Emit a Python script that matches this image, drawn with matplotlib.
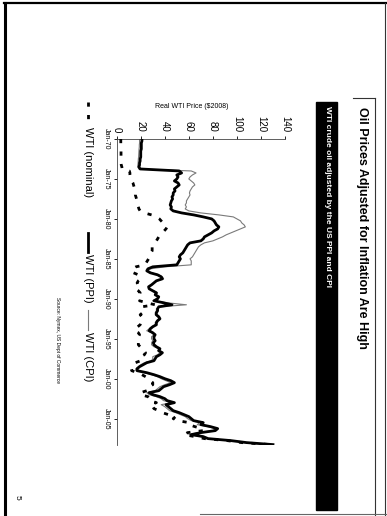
import numpy as np
import matplotlib.pyplot as plt
from matplotlib.lines import Line2D
from matplotlib.patches import Rectangle

plt.rcParams['font.family'] = ['Liberation Sans', 'DejaVu Sans']

# Page is scanned sideways: time runs down the page, price runs to the right.
# quarterly points, Jan-70 .. Apr-08
years = np.arange(1970, 2008.26, 0.25)

nominal = [
    3.4, 3.4, 3.4, 3.4,      # 1970
    3.5, 3.6, 3.6, 3.6,      # 1971
    3.6, 3.6, 3.6, 3.6,      # 1972
    3.6, 3.8, 4.3, 4.5,      # 1973
    10.5, 11.0, 11.0, 11.2,  # 1974
    11.5, 12.5, 13.5, 14.0,  # 1975
    14.5, 15.0, 15.5, 15.5,  # 1976
    15.5, 16.0, 16.5, 16.5,  # 1977
    17.0, 17.5, 18.0, 18.5,  # 1978
    19.5, 23.0, 29.0, 33.0,  # 1979
    35.5, 37.0, 38.5, 40.0,  # 1980
    42.0, 41.0, 39.5, 38.0,  # 1981
    36.5, 35.0, 34.0, 33.0,  # 1982
    31.0, 30.0, 29.5, 29.5,  # 1983
    29.5, 28.5, 28.0, 27.5,  # 1984
    26.5, 25.5, 24.5, 23.5,  # 1985
    16.0, 13.0, 12.5, 14.0,  # 1986
    18.0, 19.5, 20.0, 18.0,  # 1987
    17.0, 17.5, 16.0, 15.5,  # 1988
    18.0, 19.5, 19.0, 20.0,  # 1989
    21.0, 19.0, 25.0, 32.0,  # 1990
    21.0, 20.5, 21.0, 21.5,  # 1991
    19.5, 21.0, 21.5, 20.5,  # 1992
    20.0, 19.5, 17.5, 16.0,  # 1993
    15.0, 18.0, 19.0, 18.0,  # 1994
    18.0, 19.0, 18.0, 18.0,  # 1995
    19.5, 22.0, 22.0, 24.0,  # 1996
    23.0, 20.0, 19.5, 20.0,  # 1997
    15.5, 14.5, 13.5, 12.0,  # 1998
    12.5, 17.5, 21.0, 24.0,  # 1999
    27.0, 28.0, 30.0, 30.0,  # 2000
    27.0, 27.0, 25.0, 20.0,  # 2001
    20.0, 26.0, 28.0, 28.0,  # 2002
    33.0, 28.0, 30.0, 31.0,  # 2003
    35.0, 38.0, 43.0, 49.0,  # 2004
    47.0, 51.0, 60.0, 60.0,  # 2005
    65.0, 71.0, 72.0, 59.0,  # 2006
    56.0, 65.0, 73.0, 92.0,  # 2007
    104.0, 128.0,            # 2008
]

wti_ppi = [
    21.0, 21.0, 20.5, 20.5,  # 1970
    20.5, 20.5, 20.0, 20.0,  # 1971
    20.0, 20.0, 19.5, 19.5,  # 1972
    19.0, 19.0, 18.5, 19.5,  # 1973
    52.0, 54.0, 50.0, 51.0,  # 1974
    50.0, 48.0, 51.0, 52.0,  # 1975
    50.0, 48.0, 48.5, 47.0,  # 1976
    47.0, 46.0, 46.5, 45.5,  # 1977
    45.0, 44.5, 45.5, 45.0,  # 1978
    47.0, 54.0, 64.0, 72.0,  # 1979
    79.0, 81.0, 82.0, 83.0,  # 1980
    85.0, 84.0, 81.0, 79.0,  # 1981
    76.0, 73.0, 72.0, 70.0,  # 1982
    61.0, 59.0, 58.0, 57.0,  # 1983
    56.0, 55.0, 53.0, 52.0,  # 1984
    53.0, 52.0, 51.0, 50.0,  # 1985
    30.0, 26.0, 25.0, 28.0,  # 1986
    34.0, 37.0, 38.0, 33.0,  # 1987
    31.0, 29.0, 26.5, 27.0,  # 1988
    30.0, 33.0, 32.0, 35.0,  # 1989
    34.0, 31.0, 39.0, 46.0,  # 1990
    35.0, 34.0, 34.0, 33.0,  # 1991
    33.0, 35.0, 36.0, 34.0,  # 1992
    33.0, 33.0, 30.0, 28.0,  # 1993
    27.0, 30.0, 32.0, 31.0,  # 1994
    31.0, 32.0, 30.5, 31.0,  # 1995
    33.0, 36.0, 35.0, 38.0,  # 1996
    36.0, 33.0, 32.0, 31.0,  # 1997
    25.0, 22.0, 19.0, 17.0,  # 1998
    17.0, 25.0, 31.0, 36.0,  # 1999
    40.0, 45.0, 48.0, 44.0,  # 2000
    39.0, 37.0, 35.0, 27.0,  # 2001
    30.0, 36.0, 40.0, 42.0,  # 2002
    48.0, 41.0, 43.0, 45.0,  # 2003
    47.0, 52.0, 56.0, 60.0,  # 2004
    62.0, 64.0, 72.0, 70.0,  # 2005
    78.0, 84.0, 82.0, 70.0,  # 2006
    62.0, 72.0, 76.0, 95.0,  # 2007
    108.0, 130.0,            # 2008
]

wti_cpi = [
    19.0, 19.0, 19.0, 18.8,  # 1970
    18.8, 18.6, 18.5, 18.4,  # 1971
    18.3, 18.2, 18.0, 17.9,  # 1972
    17.8, 17.6, 17.5, 18.5,  # 1973
    62.0, 66.0, 63.0, 61.0,  # 1974
    60.0, 62.0, 64.0, 65.0,  # 1975
    63.0, 62.0, 61.0, 60.5,  # 1976
    61.0, 60.0, 59.0, 58.0,  # 1977
    58.0, 57.0, 58.0, 57.0,  # 1978
    60.0, 70.0, 85.0, 97.0,  # 1979
    100.0, 103.0, 104.0, 106.0,  # 1980
    107.0, 103.0, 99.0, 95.0,  # 1981
    91.0, 88.0, 84.0, 80.0,  # 1982
    73.0, 70.0, 68.0, 67.0,  # 1983
    66.0, 65.0, 64.0, 63.0,  # 1984
    61.0, 62.0, 62.0, 62.0,  # 1985
    40.0, 28.0, 26.0, 29.0,  # 1986
    35.0, 38.0, 39.0, 34.0,  # 1987
    31.0, 29.0, 27.0, 27.0,  # 1988
    31.0, 34.0, 33.0, 35.0,  # 1989
    33.0, 30.0, 42.0, 58.0,  # 1990
    36.0, 33.0, 33.0, 32.0,  # 1991
    32.0, 34.0, 35.0, 33.0,  # 1992
    32.0, 32.0, 29.0, 27.0,  # 1993
    25.0, 29.0, 31.0, 29.0,  # 1994
    29.0, 30.0, 29.0, 29.0,  # 1995
    31.0, 35.0, 34.0, 36.0,  # 1996
    34.0, 30.0, 30.0, 29.0,  # 1997
    23.0, 20.0, 18.0, 16.0,  # 1998
    16.0, 23.0, 29.0, 34.0,  # 1999
    37.0, 41.0, 45.0, 40.0,  # 2000
    36.0, 34.0, 32.0, 25.0,  # 2001
    27.0, 33.0, 37.0, 39.0,  # 2002
    46.0, 37.0, 40.0, 42.0,  # 2003
    44.0, 49.0, 53.0, 57.0,  # 2004
    59.0, 62.0, 69.0, 67.0,  # 2005
    76.0, 82.0, 80.0, 68.0,  # 2006
    60.0, 70.0, 75.0, 96.0,  # 2007
    108.0, 130.0,            # 2008
]

tick_years = [1970, 1975, 1980, 1985, 1990, 1995, 2000, 2005]
tick_labels = ['Jan-70', 'Jan-75', 'Jan-80', 'Jan-85', 'Jan-90', 'Jan-95', 'Jan-00', 'Jan-05']
price_ticks = [0, 20, 40, 60, 80, 100, 120, 140]
legend_labels = ['WTI (nominal)', 'WTI (PPI)', 'WTI (CPI)']

W, H = 387, 516
fig = plt.figure(figsize=(3.87, 5.16), dpi=100)


def fx(px):
    return px / W


def fy(py):
    return 1 - py / H


ax = fig.add_axes([fx(116.7), fy(445), fx(285) - fx(116.7), fy(139) - fy(445)])
ax.plot(wti_cpi, years, color='#7a7a7a', lw=0.8, zorder=2)
ax.plot(wti_ppi, years, color='black', lw=2.0, zorder=3)
ax.plot(nominal, years, color='black', lw=2.0, linestyle=(0, (1.5, 3.0)), zorder=4)

ax.set_xlim(0, 140)
ax.set_ylim(2008.3, 1970)
ax.xaxis.tick_top()
ax.set_xticks(price_ticks)
ax.set_yticks(tick_years)
ax.set_yticklabels(tick_labels)
ax.tick_params(axis='x', labelrotation=-90, labelsize=7, length=2, pad=3, width=0.6)
ax.tick_params(axis='y', labelrotation=-90, labelsize=5, length=2, pad=3, width=0.6)
for lab in ax.get_yticklabels():
    lab.set_va('center')
for s in ['right', 'bottom']:
    ax.spines[s].set_visible(False)
for s in ['left', 'top']:
    ax.spines[s].set_linewidth(0.6)
    ax.spines[s].set_color('#444444')

fig.text(fx(192), fy(107), 'Real WTI Price ($2008)', ha='center', va='center', fontsize=5)

# legend (drawn by hand, sideways)
fig.add_artist(Line2D([fx(88)] * 2, [fy(102), fy(121)], color='black', lw=2.0,
                      linestyle=(0, (1.5, 3.0))))
fig.text(fx(88), fy(127), legend_labels[0], rotation=-90, ha='center', va='top', fontsize=8)
fig.add_artist(Line2D([fx(88)] * 2, [fy(233), fy(252)], color='black', lw=2.0))
fig.text(fx(88), fy(254), legend_labels[1], rotation=-90, ha='center', va='top', fontsize=8)
fig.add_artist(Line2D([fx(88)] * 2, [fy(310), fy(330)], color='#7a7a7a', lw=0.8))
fig.text(fx(88), fy(332), legend_labels[2], rotation=-90, ha='center', va='top', fontsize=8)

fig.text(fx(57), fy(297), 'Source: Nymex, US Dept of Commerce', rotation=-90,
         ha='center', va='top', fontsize=3.5)
fig.text(fx(17), fy(497), '5', rotation=-90, ha='center', va='center', fontsize=6)

# title and black subtitle bar
fig.text(fx(362), fy(107), 'Oil Prices Adjusted for Inflation Are High', rotation=-90,
         ha='center', va='top', fontsize=9, fontweight='bold')
fig.patches.append(Rectangle((fx(316), fy(510)), fx(337) - fx(316), fy(102) - fy(510),
                             transform=fig.transFigure, color='black'))
fig.text(fx(327), fy(106), 'WTI crude oil adjusted by the US PPI and CPI', rotation=-90,
         ha='center', va='top', fontsize=6, fontweight='bold', color='white')

# page frame
frame = [
    ([4, 387], [3, 3], 1.6, 'black'),
    ([5, 5], [3, 516], 2.2, 'black'),
    ([385, 385], [3, 516], 0.8, '#333333'),
    ([375, 375], [98, 516], 0.8, '#333333'),
    ([353, 375], [98, 98], 0.8, '#333333'),
    ([200, 387], [514, 514], 0.8, '#666666'),
]
for xs, ys, lw, c in frame:
    fig.add_artist(Line2D([fx(v) for v in xs], [fy(v) for v in ys], lw=lw, color=c))

fig.savefig('out.png', dpi=100)
